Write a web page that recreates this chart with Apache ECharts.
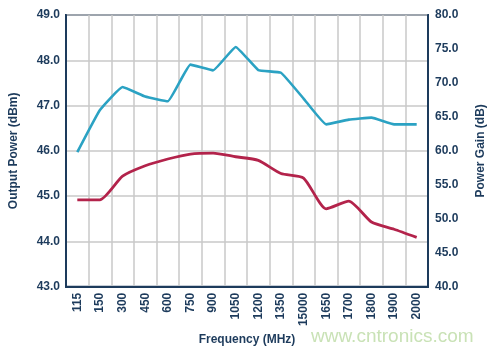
<!DOCTYPE html>
<html>
<head>
<meta charset="utf-8">
<script src="https://cdn.jsdelivr.net/npm/echarts@6/dist/echarts.min.js"></script>
<style>
html,body{margin:0;padding:0;background:#fff;}
#main{width:495px;height:351px;}
</style>
</head>
<body>
<div id="main"></div>
<script>
var categories = ['115','150','300','450','600','750','900','1050','1200','1350','15000','1650','1700','1800','1900','2000'];
var outputPower = [44.92,44.92,45.44,45.67,45.82,45.93,45.95,45.87,45.79,45.5,45.4,44.72,44.89,44.43,44.27,44.09];
var powerGain = [59.8,66.0,69.4,68.0,67.3,72.7,71.85,75.3,71.9,71.5,67.7,63.9,64.6,64.9,63.9,63.9];
var leftTicks = {min:43, max:49, interval:1};
var rightTicks = {min:40, max:80, interval:5};

var navy = '#1d3b5c';
var font = 'Liberation Sans, Arial, Helvetica, sans-serif';
var chart = echarts.init(document.getElementById('main'));
chart.setOption({
  animation:false,
  textStyle:{fontFamily:font},
  grid:{left:63.5,right:61,top:15,bottom:61,show:true,borderColor:navy,borderWidth:2,backgroundColor:'transparent'},
  xAxis:{
    type:'category', data:categories, boundaryGap:true,
    axisLine:{lineStyle:{color:navy,width:2}},
    axisTick:{show:false},
    axisLabel:{rotate:90,color:navy,fontWeight:'bold',fontSize:12,margin:6,fontFamily:font,interval:0},
    splitLine:{show:true,lineStyle:{color:'#c9c9c9',width:1.5}},
    name:'Frequency (MHz)', nameLocation:'middle', nameGap:41,
    nameTextStyle:{color:navy,fontWeight:'bold',fontSize:12,fontFamily:font}
  },
  yAxis:[{
    type:'value', min:leftTicks.min, max:leftTicks.max, interval:leftTicks.interval,
    axisLine:{show:true,lineStyle:{color:navy,width:2}},
    axisTick:{show:false},
    axisLabel:{color:navy,fontWeight:'bold',fontSize:12,margin:6,fontFamily:font,formatter:function(v){return v.toFixed(1);}},
    splitLine:{show:true,lineStyle:{color:'#c9c9c9',width:1.5}},
    name:'Output Power (dBm)', nameLocation:'middle', nameGap:46,
    nameTextStyle:{color:navy,fontWeight:'bold',fontSize:12,fontFamily:font}
  },{
    type:'value', position:'right', min:rightTicks.min, max:rightTicks.max, interval:rightTicks.interval,
    axisLine:{show:true,lineStyle:{color:navy,width:2}},
    axisTick:{show:false},
    axisLabel:{color:navy,fontWeight:'bold',fontSize:12,margin:7,fontFamily:font,formatter:function(v){return v.toFixed(1);}},
    splitLine:{show:false},
    name:'Power Gain (dB)', nameLocation:'middle', nameGap:47,
    nameTextStyle:{color:navy,fontWeight:'bold',fontSize:12,fontFamily:font}
  }],
  series:[{
    name:'Output Power', type:'line', yAxisIndex:0, data:outputPower,
    smooth:0.2, showSymbol:false, symbol:'none',
    lineStyle:{color:'#b3234b',width:2.8}
  },{
    name:'Power Gain', type:'line', yAxisIndex:1, data:powerGain,
    smooth:0.1, showSymbol:false, symbol:'none',
    lineStyle:{color:'#2ba2c3',width:2.6}
  }],
  graphic:[{
    type:'text', left:311, top:327,
    style:{text:'www.cntronics.com', fill:'#c9e2b6', font:'19px '+font}
  }]
});
</script>
</body>
</html>
